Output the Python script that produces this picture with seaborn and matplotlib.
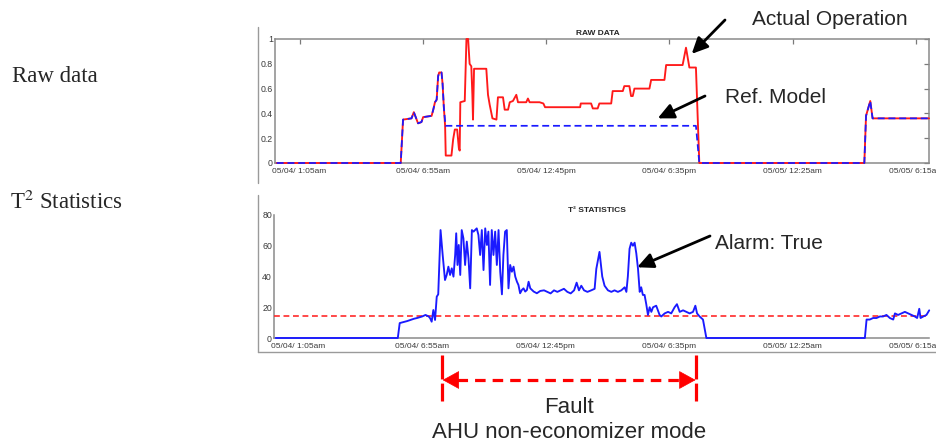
import matplotlib
matplotlib.use("Agg")
import matplotlib.pyplot as plt
import matplotlib.transforms as mtransforms
from matplotlib.lines import Line2D
from matplotlib.patches import FancyArrowPatch
import seaborn as sns

# ---------------- data (hours since 05/04 00:00) ----------------
tick_hours = [1.0833, 6.9167, 12.75, 18.5833, 24.4167, 30.25]
tick_labels = ["05/04/ 1:05am", "05/04/ 6:55am", "05/04/ 12:45pm",
               "05/04/ 6:35pm", "05/05/ 12:25am", "05/05/ 6:15am"]

actual_t = [0.0, 5.87, 5.98, 6.38, 6.49, 6.69, 6.85, 6.93, 7.33, 7.41,
            7.49, 7.57, 7.64, 7.69, 7.80, 7.85, 7.91, 7.97, 8.00, 8.27,
            8.35, 8.43, 8.54, 8.62, 8.66, 8.69, 8.90, 8.98, 9.06, 9.13,
            9.21, 9.26, 9.29, 9.34, 9.92, 10.00, 10.08, 10.21, 10.40, 10.47,
            10.71, 10.79, 10.95, 11.03, 11.18, 11.34, 11.42, 11.81, 11.89, 11.97,
            12.44, 12.62, 12.70, 14.36, 14.39, 14.88, 14.96, 15.19, 15.27, 15.83,
            15.90, 16.38, 16.45, 16.69, 16.77, 16.85, 16.93, 17.64, 17.72, 18.35,
            18.43, 19.21, 19.37, 19.53, 19.84, 20.00, 27.81, 27.89, 28.09, 28.20,
            30.87]
actual_v = [0.0, 0.0, 0.35, 0.36, 0.41, 0.32, 0.33, 0.37, 0.38, 0.43,
            0.49, 0.51, 0.70, 0.73, 0.73, 0.64, 0.45, 0.30, 0.06, 0.06,
            0.19, 0.27, 0.27, 0.12, 0.10, 0.49, 0.50, 1.00, 1.00, 0.80,
            0.78, 0.55, 0.35, 0.76, 0.76, 0.55, 0.47, 0.36, 0.35, 0.53,
            0.53, 0.43, 0.43, 0.49, 0.50, 0.55, 0.49, 0.49, 0.52, 0.49,
            0.49, 0.48, 0.45, 0.45, 0.48, 0.48, 0.44, 0.44, 0.48, 0.48,
            0.58, 0.58, 0.62, 0.62, 0.54, 0.54, 0.60, 0.60, 0.67, 0.67,
            0.79, 0.79, 0.93, 0.77, 0.77, 0.0, 0.0, 0.38, 0.50, 0.36,
            0.36]

model_t = [0.0, 5.87, 5.98, 6.38, 6.49, 6.69, 6.85, 6.93, 7.33, 7.41,
           7.49, 7.57, 7.64, 7.69, 7.80, 7.85, 7.91, 7.99, 19.84, 20.00,
           27.81, 27.89, 28.09, 28.20, 30.87]
model_v = [0.0, 0.0, 0.35, 0.36, 0.41, 0.32, 0.33, 0.37, 0.38, 0.43,
           0.49, 0.51, 0.70, 0.73, 0.73, 0.64, 0.45, 0.30, 0.30, 0.0,
           0.0, 0.38, 0.50, 0.36, 0.36]

t2_t = [0.0, 5.77, 5.86, 6.21, 6.53, 6.68, 6.92, 7.08, 7.23,
        7.30, 7.37, 7.45, 7.53, 7.61, 7.68, 7.79, 7.89, 8.00, 8.08,
        8.16, 8.24, 8.32, 8.40, 8.48, 8.53, 8.59, 8.65, 8.72, 8.79,
        8.87, 8.95, 9.03, 9.11, 9.19, 9.27, 9.35, 9.42, 9.50, 9.58,
        9.66, 9.74, 9.82, 9.90, 9.98, 10.05, 10.13, 10.21, 10.29, 10.37,
        10.45, 10.53, 10.61, 10.69, 10.76, 10.84, 10.92, 11.00, 11.08, 11.16,
        11.24, 11.32, 11.40, 11.47, 11.55, 11.63, 11.71, 11.79, 11.87, 11.95,
        12.03, 12.19, 12.34, 12.50, 12.68, 12.83, 12.99, 13.15, 13.31, 13.47,
        13.62, 13.78, 13.94, 14.10, 14.22, 14.33, 14.44, 14.57, 14.73, 14.91,
        15.07, 15.15, 15.22, 15.30, 15.35, 15.43, 15.54, 15.70, 15.86, 16.01,
        16.17, 16.33, 16.49, 16.57, 16.64, 16.72, 16.80, 16.88, 16.96, 17.04,
        17.12, 17.20, 17.27, 17.35, 17.43, 17.51, 17.59, 17.67, 17.75, 17.83,
        17.98, 18.06, 18.14, 18.22, 18.38, 18.54, 18.69, 18.85, 18.96, 19.09,
        19.25, 19.40, 19.56, 19.72, 19.83, 19.91, 20.03, 20.19, 20.27, 20.35,
        27.84, 27.92, 28.07, 28.23, 28.39, 28.55, 28.70, 28.86, 29.02, 29.18,
        29.26, 29.41, 29.57, 29.73, 29.89, 30.04, 30.20, 30.31, 30.41, 30.47,
        30.60, 30.75, 30.88]
t2_v = [0, 0, 9.7, 11, 12.5, 13, 14, 15, 14,
        12.8, 10.6, 18.2, 11.7, 26.9, 28.4, 70.2, 54.0, 37.7, 41.0,
        46.4, 41.0, 45.3, 39.9, 54.0, 68.1, 47.5, 60.5, 41.0, 70.2,
        64.8, 47.5, 62.7, 51.8, 32.3, 70.2, 69.2, 70.2, 71.3, 67.0,
        54.0, 70.2, 44.2, 71.3, 60.5, 69.2, 34.5, 70.2, 54.0, 69.2,
        47.5, 70.2, 43.1, 28.4, 54.0, 69.2, 70.2, 32.3, 47.5, 43.1,
        46.4, 39.9, 36.6, 34.5, 29.1, 31.2, 32.3, 30.2, 31.2, 36.6,
        32.3, 30.2, 29.1, 30.6, 31, 30, 29, 31, 30, 31,
        32, 30, 29, 31, 36, 31, 34, 31, 30, 31,
        32, 45, 50, 56, 50, 40, 34, 31, 30, 31,
        30, 31, 33, 30, 40, 58, 62, 60, 62, 55,
        45, 30, 33, 28, 28, 22, 15, 20, 17, 20,
        21, 18, 15, 14, 16, 17, 16, 20, 22, 17,
        18, 17, 16, 17, 21, 16, 14, 12, 6, 0,
        0, 12, 12, 13, 13, 14, 14, 15, 13, 12,
        16, 15, 16, 17, 16, 15, 14, 13, 19, 13,
        14, 15, 18]

t2_limit = 14.5
fault_start, fault_end = 7.86, 19.87
x_range = (-0.08, 30.87)

# ---------------- style ----------------
sns.set_style("white")
plt.rcParams["font.family"] = ["Liberation Sans", "DejaVu Sans"]
plt.rcParams["mathtext.fontset"] = "stix"

W, H = 937, 442
fig = plt.figure(figsize=(W / 100, H / 100), dpi=100)


def fx(px):
    return px / W


def fy(py):
    return 1 - py / H


ax1 = fig.add_axes([fx(275), fy(163), fx(929) - fx(275), fy(39) - fy(163)])
ax2 = fig.add_axes([fx(274), fy(338), fx(929) - fx(274), fy(215) - fy(338)])

# ---------------- top: raw data ----------------
sns.lineplot(x=actual_t, y=actual_v, ax=ax1, color="#ff1a1a", lw=1.35,
             estimator=None, sort=False, zorder=3)
sns.lineplot(x=model_t, y=model_v, ax=ax1, color="#1a1aff", lw=1.25,
             estimator=None, sort=False, zorder=4)
ax1.lines[-1].set_dashes((4, 2.2))
for ln in ax1.lines:
    ln.set_clip_on(False)
ax1.set_xlim(*x_range)
ax1.set_ylim(0, 1)
ax1.set_yticks([0, 0.2, 0.4, 0.6, 0.8, 1])
ax1.set_yticklabels(["0", "0.2", "0.4", "0.6", "0.8", "1"])
for s in ax1.spines.values():
    s.set_color("#8a8a8a")
    s.set_linewidth(1.1)
ax1.text(0.493, 1 + 4 / 124, "RAW DATA", transform=ax1.transAxes,
         ha="center", va="baseline", fontsize=6, fontweight="bold")

# ---------------- bottom: T2 statistics ----------------
sns.lineplot(x=t2_t, y=t2_v, ax=ax2, color="#1a1aff", lw=1.35,
             estimator=None, sort=False, zorder=4)
ax2.lines[-1].set_clip_on(False)
ax2.axhline(t2_limit, color="#ff2a2a", lw=1.2, dashes=(3.5, 2.2), zorder=3)
ax2.set_xlim(*x_range)
ax2.set_ylim(0, 80)
ax2.set_yticks([0, 20, 40, 60, 80])
sns.despine(ax=ax2)
for s in ("left", "bottom"):
    ax2.spines[s].set_color("#8a8a8a")
    ax2.spines[s].set_linewidth(1.1)
ax2.text(0.493, 1 + 3 / 123, "T² STATISTICS", transform=ax2.transAxes,
         ha="center", va="baseline", fontsize=6, fontweight="bold")

for ax, extra in ((ax1, True), (ax2, False)):
    ax.set_xticks(tick_hours)
    ax.set_xticklabels(tick_labels)
    ax.set_xlabel("")
    ax.set_ylabel("")
    ax.tick_params(axis="both", direction="in", length=3.5, width=0.9,
                   color="#7a7a7a", labelsize=6, top=extra, right=extra)
    ax.tick_params(axis="both", labelcolor="#3a3a3a")
    ax.tick_params(axis="x", pad=3.5)
    ax.tick_params(axis="y", pad=1.5, labelsize=6.3)

# ---------------- panel frame lines ----------------
for (x0, y0, x1, y1) in ((258, 27, 258, 183), (258, 195, 258, 352), (258, 352, 937, 352)):
    fig.add_artist(Line2D([fx(x0), fx(x1)], [fy(y0), fy(y1)],
                          transform=fig.transFigure, color="#9a9a9a", lw=1.0))

# ---------------- left labels ----------------
fig.text(fx(12), fy(82), "Raw data", family="Liberation Serif", fontsize=16.5,
         va="baseline", ha="left")
fig.text(fx(10), fy(209), r"T$^2$ Statistics", family="Liberation Serif",
         fontsize=16.5, va="baseline", ha="left")

# ---------------- annotations ----------------
arrow_kw = dict(arrowstyle="-|>,head_length=0.8,head_width=0.38", color="black",
                lw=2.0, shrinkA=0, shrinkB=0, mutation_scale=12)


def callout(ax, xy, tail_px, label, text_px):
    ax.annotate("", xy=xy, xycoords="data",
                xytext=(fx(tail_px[0]), fy(tail_px[1])), textcoords="figure fraction",
                arrowprops=arrow_kw, annotation_clip=False)
    fig.text(fx(text_px[0]), fy(text_px[1]), label, fontsize=15,
             ha="left", va="baseline")


callout(ax1, (19.64, 0.88), (725, 20), "Actual Operation", (752, 25))
callout(ax1, (18.03, 0.36), (705, 96), "Ref. Model", (725, 103))
callout(ax2, (17.08, 46.0), (710, 236), "Alarm: True", (715, 249))

# ---------------- fault window bracket ----------------
blend = mtransforms.blended_transform_factory(ax2.transData, fig.transFigure)
for xv in (fault_start, fault_end):
    fig.add_artist(Line2D([xv, xv], [fy(355), fy(401)], transform=blend,
                          color="#ff0000", lw=2.3, dashes=(7.5, 1.3)))
fig.add_artist(Line2D([fault_start + 0.7, fault_end - 0.7], [fy(380), fy(380)],
                      transform=blend, color="#ff0000", lw=2.3, dashes=(3.3, 2.2)))
for tip, base in ((fault_start + 0.03, fault_start + 0.8),
                  (fault_end - 0.03, fault_end - 0.8)):
    fig.add_artist(FancyArrowPatch(posA=(base, fy(380)), posB=(tip, fy(380)),
                                   transform=blend, color="#ff0000", lw=0.5,
                                   arrowstyle="-|>,head_length=1.0,head_width=0.55",
                                   mutation_scale=11, shrinkA=0, shrinkB=0))
mid = (fault_start + fault_end) / 2
fig.text(mid, fy(413), "Fault", transform=blend, fontsize=16,
         ha="center", va="baseline")
fig.text(mid, fy(438), "AHU non-economizer mode", transform=blend, fontsize=16,
         ha="center", va="baseline")

fig.savefig("out.png", dpi=100)
